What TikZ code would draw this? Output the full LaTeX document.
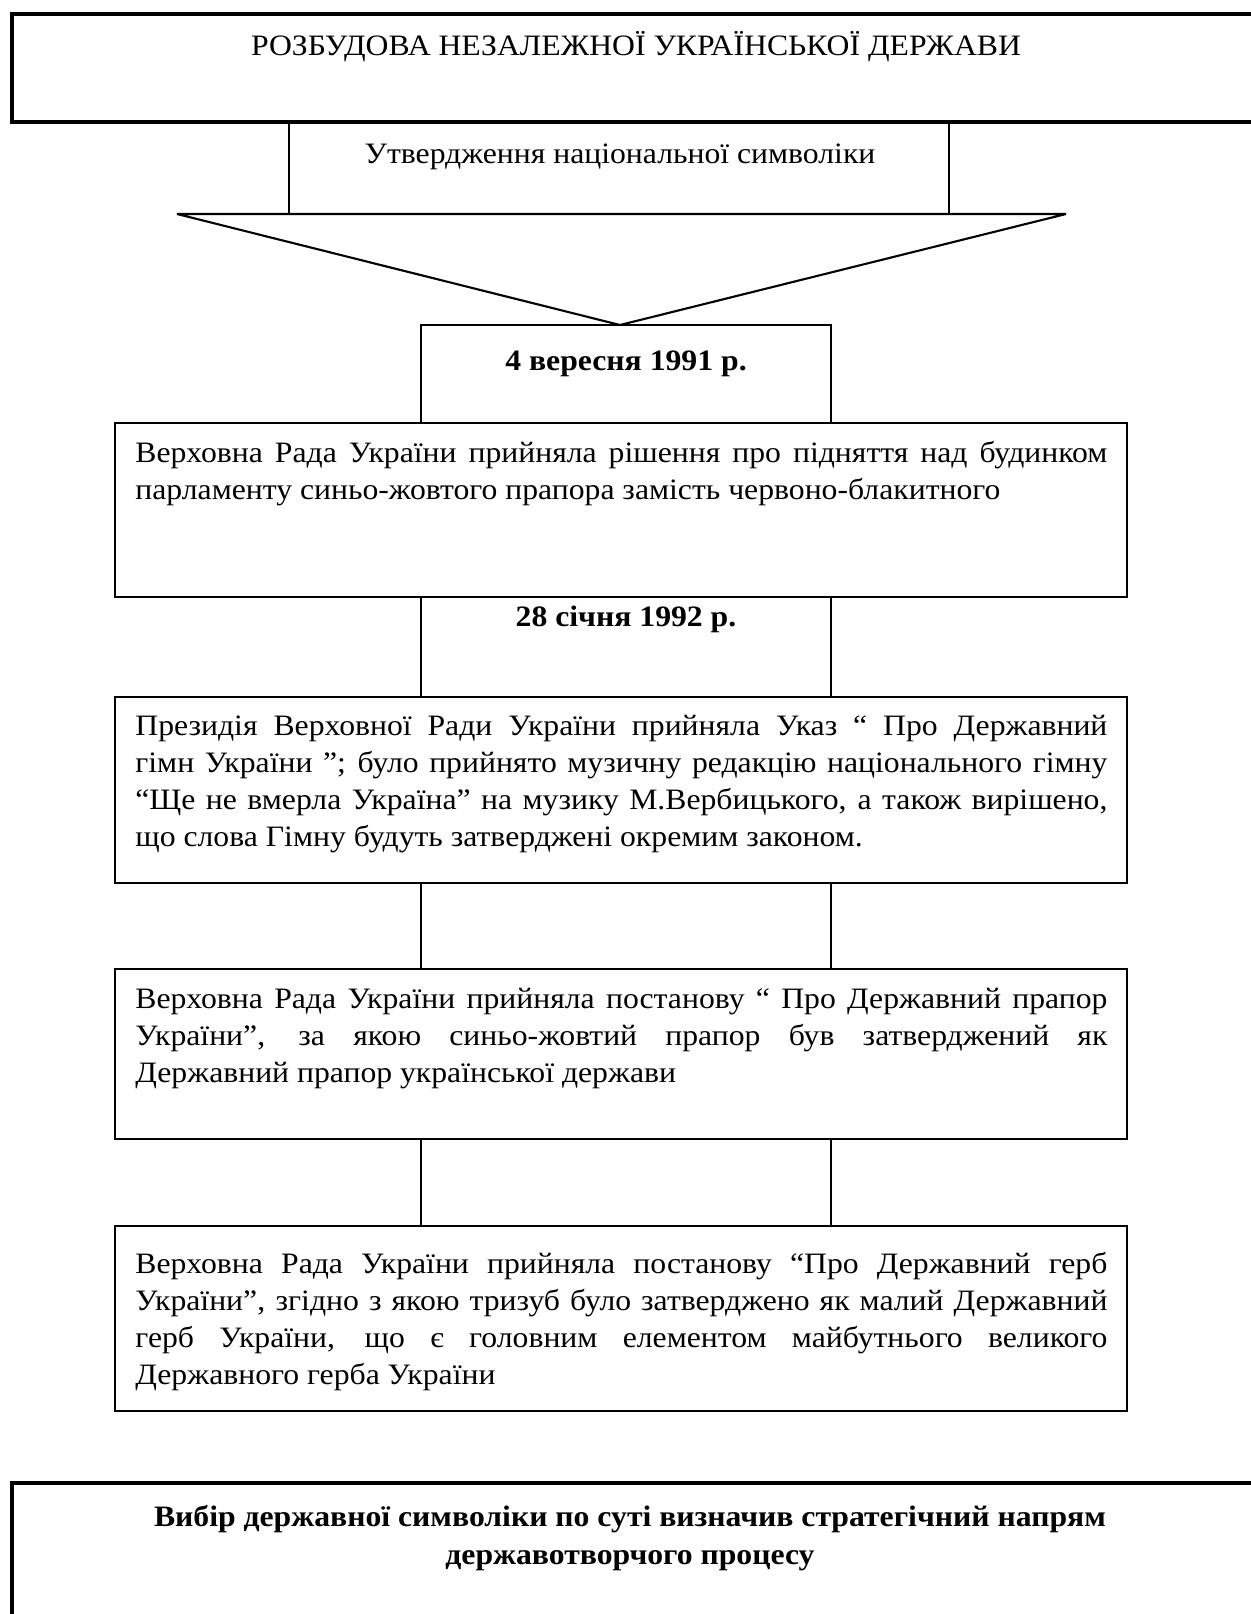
\documentclass[tikz,border=0pt]{standalone}
\usepackage{fontspec}
\setmainfont[FakeStretch=1.07]{Liberation Serif}
\def\px{0.4759pt}
\tikzset{
	frame/.style 2 args={draw, line width=1pt, inner sep=0pt, minimum width=#1*\px, minimum height=#2*\px},
	heavy/.style={line width=2pt},
	para/.style={text width=462.6pt, align=justify, inner sep=0pt, anchor=base west},
	lbl/.style={inner sep=0pt, anchor=base}
}
\begin{document}
\begin{tikzpicture}[x=0.4759pt, y=-0.4759pt, font=\fontsize{14.1}{17.7}\selectfont, line join=miter]
	\useasboundingbox (0,0) rectangle (1251,1614);
	\node[frame={1268}{108}, heavy] (head) at (646,68) {};
	\node[frame={660}{92}] (sym) at (619,168) {};
	\node[frame={410}{98}] (d1) at (626,374) {};
	\node[frame={1012}{174}] (bA) at (621,510) {};
	\node[frame={410}{100}] (d2) at (626,647) {};
	\node[frame={1012}{186}] (bB) at (621,790) {};
	\node[frame={410}{86}] (c1) at (626,926) {};
	\node[frame={1012}{170}] (bC) at (621,1054) {};
	\node[frame={410}{87}] (c2) at (626,1182.5) {};
	\node[frame={1012}{185}] (bD) at (621,1318.5) {};
	\node[frame={1268}{167}, heavy] (tail) at (646,1566.5) {};
	\coordinate (tl) at (177,214);
	\coordinate (tr) at (1066,214);
	\coordinate (tip) at (620,325);
	\draw[line width=1pt, line join=bevel] (tl) -- (tr) -- (tip) -- cycle;
	\node[lbl] (headtxt) at (636,56) {РОЗБУДОВА НЕЗАЛЕЖНОЇ УКРАЇНСЬКОЇ ДЕРЖАВИ};
	\node[lbl] (symtxt) at (620,164) {Утвердження національної символіки};
	\node[lbl, font=\fontsize{14.1}{17.7}\selectfont\bfseries] (d1txt) at (626,370) {4 вересня 1991 р.};
	\node[lbl, font=\fontsize{14.1}{17.7}\selectfont\bfseries] (d2txt) at (626,626) {28 січня 1992 р.};
	\node[para] (txtA) at (135,462) {Верховна Рада України прийняла рішення про підняття над будинком\linebreak
		парламенту синьо-жовтого прапора замість червоно-блакитного};
	\node[para] (txtB) at (135,735) {Президія Верховної Ради України прийняла Указ “ Про Державний\linebreak
		гімн України ”; було прийнято музичну редакцію національного гімну\linebreak
		“Ще не вмерла Україна” на музику М.Вербицького, а також вирішено,\linebreak
		що слова Гімну будуть затверджені окремим законом.};
	\node[para] (txtC) at (135,1008) {Верховна Рада України прийняла постанову “ Про Державний прапор\linebreak
		України”, за якою синьо-жовтий прапор був затверджений як\linebreak
		Державний прапор української держави};
	\node[para] (txtD) at (135,1273) {Верховна Рада України прийняла постанову “Про Державний герб\linebreak
		України”, згідно з якою тризуб було затверджено як малий Державний\linebreak
		герб України, що є головним елементом майбутнього великого\linebreak
		Державного герба України};
	\node[lbl, align=center, font=\fontsize{14.1}{17.7}\selectfont\bfseries] (tailtxt) at (630,1564) {Вибір державної символіки по суті визначив стратегічний напрям\\
		державотворчого процесу};
\end{tikzpicture}
\end{document}
